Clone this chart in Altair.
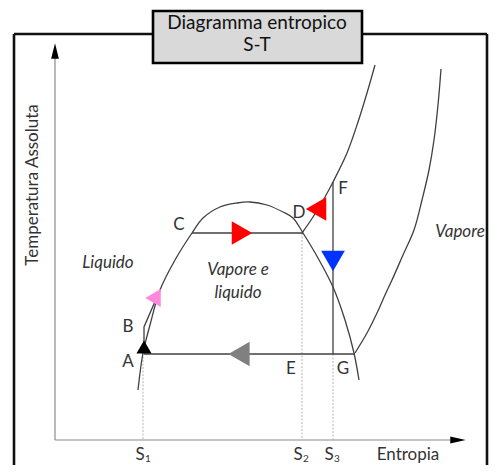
import altair as alt
import pandas as pd

# ---- curves (S = entropy units, T = temperature units, schematic) ----
dome_s = [83, 88, 95, 105, 120, 137, 148, 165, 182, 195, 212, 228, 238, 248, 263, 278, 290, 299, 304]
dome_t = [50, 87, 115, 150, 180, 207, 222, 233, 237, 238, 235, 228, 222, 207, 182, 153, 120, 87, 60]

pump_s = [89, 89, 105]
pump_t = [87, 113, 150]

hiP_s = [247, 258, 270, 278, 292, 303, 312, 320]
hiP_t = [207, 223, 243, 258, 287, 318, 347, 375]

loP_s = [300, 312, 322, 330, 337, 348, 359, 367, 374, 379, 383, 386]
loP_t = [87, 107, 127, 145, 160, 185, 210, 240, 270, 300, 335, 371]

# straight process lines: C-D, A-G, F-G
seg_s = [137, 89, 278]
seg_s2 = [248, 300, 278]
seg_t = [207, 86, 86]
seg_t2 = [207, 86, 258]

# projections to the entropy axis (S1, S2, S3)
proj_s = [88, 247, 278]
proj_t = [87, 207, 86]

# direction arrows
arr_s = [187, 261, 278, 184, 89, 98]
arr_t = [207, 231, 179, 86, 93, 142]
arr_shape = ["triangle-right", "triangle-left", "triangle-down", "triangle-left", "triangle-up", "triangle-left"]
arr_color = ["#ff0000", "#ff0000", "#0033ff", "#808080", "#000000", "#ff88dd"]
arr_size = [560, 560, 560, 600, 230, 320]

# point letters
pt_label = ["C", "D", "F", "B", "A", "E", "G"]
pt_s = [124, 244, 288, 73, 73, 236, 288]
pt_t = [215, 227, 251, 113, 78, 71, 71]

# region names
reg_label = ["Liquido", "Vapore e", "liquido", "Vapore"]
reg_s = [53, 183, 183, 405]
reg_t = [177, 170, 147, 208]

# entropy ticks
tick_label = ["1", "2", "3"]
tick_s = [87, 245, 276]

title_lines = ["Diagramma entropico", "S-T"]

def curve(s, t):
    return pd.DataFrame({"S": s, "T": t, "i": list(range(len(s)))})

xs = alt.Scale(domain=[-47, 434], nice=False, zero=False)
ys = alt.Scale(domain=[-25, 432], nice=False, zero=False)
X = alt.X("S:Q", scale=xs, axis=None)
Y = alt.Y("T:Q", scale=ys, axis=None)
X2 = alt.X2("S2:Q")
Y2 = alt.Y2("T2:Q")

DARK = "#404040"
TXT = "#333333"
FONT = "Lato"

# frame
frame = alt.Chart(pd.DataFrame({"S": [-41, -41, 432], "S2": [-41, 432, 432],
                                "T": [-25, 406, -25], "T2": [406, 406, 406]})).mark_rule(
    color="#111111", strokeWidth=2.6).encode(x=X, x2=X2, y=Y, y2=Y2)

# axes
axes = alt.Chart(pd.DataFrame({"S": [0, 0], "S2": [0, 400], "T": [0, 0], "T2": [385, 0]})).mark_rule(
    color="#8a8a8a", strokeWidth=1.2).encode(x=X, x2=X2, y=Y, y2=Y2)
axis_heads = alt.Chart(pd.DataFrame({"S": [0, 403], "T": [389, 0],
                                     "shape": ["M0,-1L-0.5,1L0.5,1Z", "M1,0L-1,-0.45L-1,0.45Z"]})).mark_point(
    filled=True, opacity=1, color="#000000", size=240, strokeWidth=0).encode(
    x=X, y=Y, shape=alt.Shape("shape:N", scale=None))

proj = alt.Chart(pd.DataFrame({"S": proj_s, "S2": proj_s, "T": proj_t, "T2": [0, 0, 0]})).mark_rule(
    color="#b5b5b5", strokeWidth=1, strokeDash=[2, 1.5]).encode(x=X, x2=X2, y=Y, y2=Y2)

segs = alt.Chart(pd.DataFrame({"S": seg_s, "S2": seg_s2, "T": seg_t, "T2": seg_t2})).mark_rule(
    color=DARK, strokeWidth=1.3).encode(x=X, x2=X2, y=Y, y2=Y2)

def line(s, t, interp="catmull-rom"):
    return alt.Chart(curve(s, t)).mark_line(color=DARK, strokeWidth=1.3, interpolate=interp).encode(
        x=X, y=Y, order=alt.Order("i:Q"))

curves = (line(dome_s, dome_t) + line(pump_s, pump_t, "linear")
          + line(hiP_s, hiP_t) + line(loP_s, loP_t))

arrows = alt.Chart(pd.DataFrame({"S": arr_s, "T": arr_t, "shape": arr_shape,
                                 "color": arr_color, "size": arr_size})).mark_point(
    filled=True, opacity=1, strokeWidth=0).encode(
    x=X, y=Y, shape=alt.Shape("shape:N", scale=None),
    color=alt.Color("color:N", scale=None), size=alt.Size("size:Q", scale=None))

letters = alt.Chart(pd.DataFrame({"S": pt_s, "T": pt_t, "label": pt_label})).mark_text(
    font=FONT, fontSize=17, color=TXT).encode(x=X, y=Y, text="label:N")

regions = alt.Chart(pd.DataFrame({"S": reg_s, "T": reg_t, "label": reg_label})).mark_text(
    font=FONT, fontSize=17, fontStyle="italic", color=TXT).encode(x=X, y=Y, text="label:N")

ylab = alt.Chart(pd.DataFrame({"S": [-22], "T": [255], "label": ["Temperatura Assoluta"]})).mark_text(
    font=FONT, fontSize=17, color=TXT, angle=270).encode(x=X, y=Y, text="label:N")

xlab = alt.Chart(pd.DataFrame({"S": [353], "T": [-15], "label": ["Entropia"]})).mark_text(
    font=FONT, fontSize=17, color=TXT).encode(x=X, y=Y, text="label:N")

tick_S = alt.Chart(pd.DataFrame({"S": tick_s, "T": [-15] * 3, "label": ["S"] * 3})).mark_text(
    font=FONT, fontSize=17, color=TXT, dx=-2).encode(x=X, y=Y, text="label:N")
tick_sub = alt.Chart(pd.DataFrame({"S": tick_s, "T": [-15] * 3, "label": tick_label})).mark_text(
    font=FONT, fontSize=10, color=TXT, dx=6, dy=4).encode(x=X, y=Y, text="label:N")

tbox = alt.Chart(pd.DataFrame({"S": [98], "S2": [307], "T": [429], "T2": [377]})).mark_rect(
    fill="#d9d9d9", stroke="#000000", strokeWidth=2.6).encode(x=X, x2=X2, y=Y, y2=Y2)
ttext = alt.Chart(pd.DataFrame({"S": [202, 202], "T": [417, 395], "label": title_lines})).mark_text(
    font=FONT, fontSize=19, color="#111111").encode(x=X, y=Y, text="label:N")

chart = alt.layer(frame, axes, proj, segs, curves, axis_heads, arrows, letters, regions,
                  ylab, xlab, tick_S, tick_sub, tbox, ttext).properties(
    width=481, height=457, padding=0, autosize="none").configure_view(strokeWidth=0)

chart.save("out.html", embed_options={"renderer": "svg", "actions": False})
